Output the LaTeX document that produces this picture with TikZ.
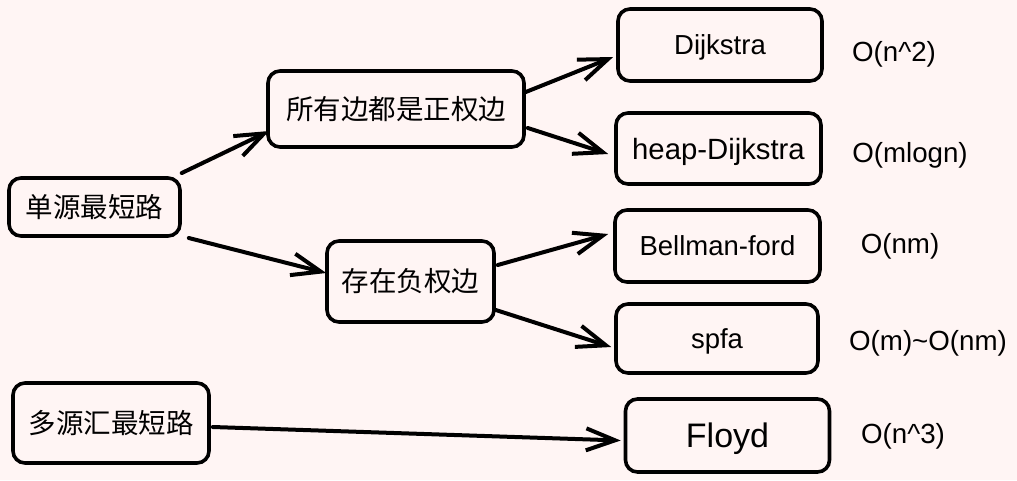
\documentclass[tikz,border=0pt]{standalone}
\usepackage{fontspec}
\setmainfont{Liberation Sans}
\newfontfamily\cjk{Noto Sans CJK SC}
\usetikzlibrary{arrows.meta,calc}
\definecolor{bgpink}{RGB}{255,245,244}
\tikzset{
  box/.style={draw=black, line width=3.6pt, rounded corners=12pt, inner sep=0pt,
    minimum width=#1},
  lat/.style={font=\fontsize{27.5}{30}\selectfont, text height=19.7pt, text depth=0pt},
  zh/.style={font=\cjk\fontsize{27.5}{30}\selectfont, text height=22pt, text depth=2pt},
  cplx/.style={font=\fontsize{27.7}{30}\selectfont, text height=19.8pt, text depth=0pt, inner sep=0pt},
  arr/.style={line width=4pt, line cap=round, -{Straight Barb[length=29pt,width=22pt,line width=4pt]}},
}
\begin{document}
\begin{tikzpicture}[x=1pt,y=-1pt]
\fill[bgpink] (0,0) rectangle (1017,480);
\useasboundingbox (0,0) rectangle (1017,480);
% nodes
\node[box=171pt, minimum height=58pt, zh] (s1) at (94.5,207) {单源最短路};
\node[box=256pt, minimum height=76pt, zh] (a1) at (396,109) {所有边都是正权边};
\node[box=167pt, minimum height=81pt, zh] (n1) at (410.5,281.5) {存在负权边};
\node[box=196pt, minimum height=80pt, zh] (m1) at (111,423) {多源汇最短路};
\node[box=204pt, minimum height=72pt, lat] (d1) at (720,45) {Dijkstra};
\node[box=205pt, minimum height=71pt, lat, font=\fontsize{29.3}{32}\selectfont, text height=21pt] (d2) at (718.5,148.5) {heap-Dijkstra};
\node[box=205pt, minimum height=72pt, lat] (b1) at (717.5,246) {Bellman-ford};
\node[box=202pt, minimum height=69pt, lat] (sp) at (717,338.5) {spfa};
\node[box=204pt, minimum height=73pt, lat, font=\fontsize{34}{37}\selectfont, text height=24.3pt] (fl) at (727.5,435.5) {Floyd};
% complexities
\node[cplx] (c1) at (894,52) {O(n\textasciicircum 2)};
\node[cplx] (c2) at (910,152.5) {O(mlogn)};
\node[cplx] (c3) at (900,244) {O(nm)};
\node[cplx] (c4) at (928,341) {O(m)\textasciitilde O(nm)};
\node[cplx] (c5) at (903,434) {O(n\textasciicircum 3)};
% connectors
\draw[arr] ($(s1.east)+(0,-34)$) -- ($(a1.west)+(3,22)$);
\draw[arr] ($(a1.east)+(0,-17)$) -- ($(d1.west)+(-3,12)$);
\draw[arr] ($(a1.east)+(2,19)$) -- ($(d2.west)+(-6,5.5)$);
\draw[arr] ($(s1.east)+(7,31)$) -- ($(n1.west)+(1,-8.5)$);
\draw[arr] ($(n1.east)+(2,-16.5)$) -- ($(b1.west)+(-5,-12)$);
\draw[arr] ($(n1.east)+(0,28.5)$) -- ($(sp.west)+(-3,8.5)$);
\draw[arr] ($(m1.east)+(2,4)$) -- ($(fl.west)+(-3,5)$);
\end{tikzpicture}
\end{document}
